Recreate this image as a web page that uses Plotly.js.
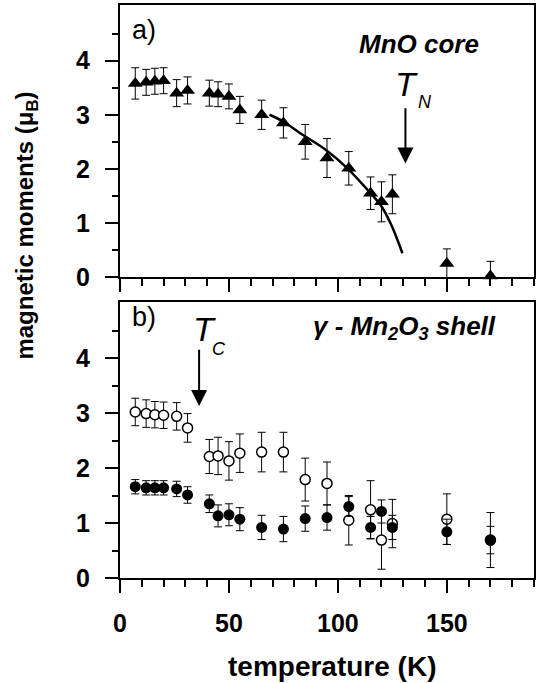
<!DOCTYPE html>
<html><head><meta charset="utf-8">
<script src="https://cdn.plot.ly/plotly-3.0.1.min.js"></script>
<style>html,body{margin:0;padding:0;background:#fff}#chart{width:537px;height:683px}</style>
</head><body><div id="chart"></div>
<script>
// temperatures (K)
const temps = [7, 12, 16, 20, 26, 31, 41, 45, 50, 55, 65, 75, 85, 95, 105, 115, 120, 125, 150, 170];
// panel a) MnO core moments
const mnoCore = [3.58, 3.60, 3.62, 3.63, 3.40, 3.45, 3.40, 3.38, 3.34, 3.09, 3.00, 2.85, 2.50, 2.20, 2.01, 1.55, 1.39, 1.53, 0.25, 0.02];
const mnoErr  = [0.29, 0.24, 0.24, 0.24, 0.25, 0.25, 0.24, 0.23, 0.23, 0.25, 0.27, 0.28, 0.32, 0.36, 0.31, 0.30, 0.37, 0.36, 0.27, 0.27];
// fit curve
const fitT = [68.6, 74.7, 83.8, 94.5, 104.4, 114.3, 119.6, 124.2, 127.3, 129.6];
const fitM = [3.00, 2.88, 2.63, 2.35, 2.01, 1.58, 1.33, 0.99, 0.69, 0.44];
// panel b) gamma-Mn2O3 shell: open circles and filled circles
const shellOpen    = [3.02, 2.99, 2.97, 2.96, 2.94, 2.73, 2.21, 2.22, 2.13, 2.27, 2.29, 2.29, 1.79, 1.72, 1.05, 1.24, 0.69, 0.99, 1.07, 0.69];
const shellOpenErr = [0.25, 0.25, 0.24, 0.24, 0.25, 0.26, 0.31, 0.34, 0.35, 0.35, 0.36, 0.36, 0.39, 0.39, 0.45, 0.53, 0.53, 0.44, 0.46, 0.50];
const shellFill    = [1.66, 1.64, 1.64, 1.64, 1.62, 1.51, 1.35, 1.13, 1.15, 1.07, 0.92, 0.89, 1.08, 1.10, 1.30, 0.92, 1.21, 0.92, 0.84, 0.69];
const shellFillErr = [0.13, 0.13, 0.13, 0.13, 0.14, 0.15, 0.16, 0.20, 0.20, 0.21, 0.22, 0.23, 0.23, 0.23, 0.18, 0.20, 0.21, 0.22, 0.23, 0.25];
const xTicks = [0, 50, 100, 150];
const yTicks = [0, 1, 2, 3, 4];
const yMinor = [0.5, 1.5, 2.5, 3.5, 4.5];
const yMirror = [0, 0.5, 1, 1.5, 2, 2.5, 3, 3.5, 4, 4.5];
const xMirror = [0,10,20,30,40,50,60,70,80,90,100,110,120,130,140,150,160,170,180,190];

const FONT = 'Liberation Sans, Arial, Helvetica, sans-serif';
const err = (a) => ({type: 'data', array: a, visible: true, color: '#000', thickness: 1, width: 4});

const traces = [
  {x: temps, y: mnoCore, xaxis: 'x2', yaxis: 'y2', mode: 'markers', type: 'scatter',
   marker: {symbol: 'triangle-up', size: 13, color: '#000'}, error_y: err(mnoErr), cliponaxis: false},
  {x: fitT, y: fitM, xaxis: 'x2', yaxis: 'y2', mode: 'lines', type: 'scatter',
   line: {color: '#000', width: 2.5, shape: 'spline'}},
  {x: temps, y: shellOpen, xaxis: 'x', yaxis: 'y', mode: 'markers', type: 'scatter',
   marker: {symbol: 'circle', size: 10, color: '#fff', line: {color: '#000', width: 1.5}}, error_y: err(shellOpenErr)},
  {x: temps, y: shellFill, xaxis: 'x', yaxis: 'y', mode: 'markers', type: 'scatter',
   marker: {symbol: 'circle', size: 11, color: '#000'}, error_y: err(shellFillErr)}
];

const xBase = {range: [0, 190], showgrid: false, zeroline: false, showline: true, linewidth: 2, linecolor: '#000',
  mirror: true, ticks: 'outside', ticklen: 13, tickwidth: 2, tickcolor: '#000', tickvals: xTicks,
  minor: {dtick: 10, tick0: 0, ticks: 'outside', ticklen: 7, tickwidth: 2, tickcolor: '#000'},
  tickfont: {family: FONT, size: 25, color: '#000', weight: 'bold'}};
const yBase = {showgrid: false, zeroline: false, showline: true, linewidth: 2, linecolor: '#000',
  mirror: true, ticks: 'outside', ticklen: 13, tickwidth: 2, tickcolor: '#000', tickvals: yTicks,
  minor: {tickvals: yMinor, ticks: 'outside', ticklen: 6, tickwidth: 2, tickcolor: '#000'},
  tickfont: {family: FONT, size: 25, color: '#000', weight: 'bold'}, ticklabelstandoff: 10};

const mirX = (anchor, over) => ({range: [0, 190], overlaying: over, side: 'top', anchor: anchor, showgrid: false,
  zeroline: false, showline: false, ticks: 'outside', ticklen: 3, tickwidth: 2, tickcolor: '#000',
  tickvals: xMirror, showticklabels: false});
const mirY = (anchor, over, rng) => ({range: rng, overlaying: over, side: 'right', anchor: anchor, showgrid: false,
  zeroline: false, showline: false, ticks: 'outside', ticklen: 3, tickwidth: 2, tickcolor: '#000',
  tickvals: yMirror, showticklabels: false});

const layout = {
  width: 537, height: 683, showlegend: false,
  paper_bgcolor: '#fff', plot_bgcolor: '#fff',
  margin: {l: 120, r: 3, t: 5, b: 105},
  font: {family: FONT, color: '#000'},
  xaxis: Object.assign({}, xBase, {anchor: 'y', ticklabelstandoff: 9}),
  yaxis: Object.assign({}, yBase, {domain: [0, 0.4817], range: [0, 5.02], anchor: 'x'}),
  xaxis2: Object.assign({}, xBase, {anchor: 'y2', showticklabels: false}),
  yaxis2: Object.assign({}, yBase, {domain: [0.5253, 1], range: [0, 5.03], anchor: 'x2'}),
  xaxis3: mirX('y2', 'x2'),
  xaxis4: mirX('y', 'x'),
  yaxis3: mirY('x2', 'y2', [0, 5.03]),
  yaxis4: mirY('x', 'y', [0, 5.02]),
  annotations: [
    {xref: 'x2', yref: 'y2', x: 11, y: 4.57, text: 'a)', showarrow: false, font: {size: 27, family: FONT}},
    {xref: 'x', yref: 'y', x: 11, y: 4.75, text: 'b)', showarrow: false, font: {size: 27, family: FONT}},
    {xref: 'x2', yref: 'y2', x: 137.2, y: 4.31, text: '<b><i>MnO core</i></b>', showarrow: false, font: {size: 26, family: FONT}},
    {xref: 'x2', yref: 'y2', x: 131.7, y: 3.56, text: '<i>T</i>', showarrow: false, font: {size: 34, family: FONT}},
    {xref: 'x2', yref: 'y2', x: 139.8, y: 3.24, text: '<i>N</i>', showarrow: false, font: {size: 18, family: FONT}},
    {xref: 'x2', yref: 'y2', x: 131, y: 2.1, axref: 'x2', ayref: 'y2', ax: 131, ay: 3.15, text: '',
     showarrow: true, arrowhead: 2, arrowsize: 1.6, arrowwidth: 2, arrowcolor: '#000', standoff: 0},
    {xref: 'x', yref: 'y', x: 38.9, y: 4.53, text: '<i>T</i>', showarrow: false, font: {size: 34, family: FONT}},
    {xref: 'x', yref: 'y', x: 45.4, y: 4.17, text: '<i>C</i>', showarrow: false, font: {size: 18, family: FONT}},
    {xref: 'x', yref: 'y', x: 36.3, y: 3.13, axref: 'x', ayref: 'y', ax: 36.3, ay: 4.18, text: '',
     showarrow: true, arrowhead: 2, arrowsize: 1.6, arrowwidth: 2, arrowcolor: '#000', standoff: 0},
    {xref: 'x', yref: 'y', x: 130.5, y: 4.55, text: '<b><i>γ - Mn<sub>2</sub>O<sub>3</sub> shell</i></b>', showarrow: false, font: {size: 26, family: FONT}},
    {xref: 'paper', yref: 'paper', x: -0.2246, y: 0.615, text: '<b>magnetic moments (μ<sub>B</sub>)</b>', textangle: -90,
     showarrow: false, xanchor: 'center', yanchor: 'middle', font: {size: 24, family: FONT}},
    {xref: 'paper', yref: 'paper', x: 0.512, y: -0.155, text: '<b>temperature (K)</b>',
     showarrow: false, xanchor: 'center', yanchor: 'middle', font: {size: 28, family: FONT}}
  ]
};
Plotly.newPlot('chart', traces, layout, {staticPlot: true, displayModeBar: false});
</script></body></html>
